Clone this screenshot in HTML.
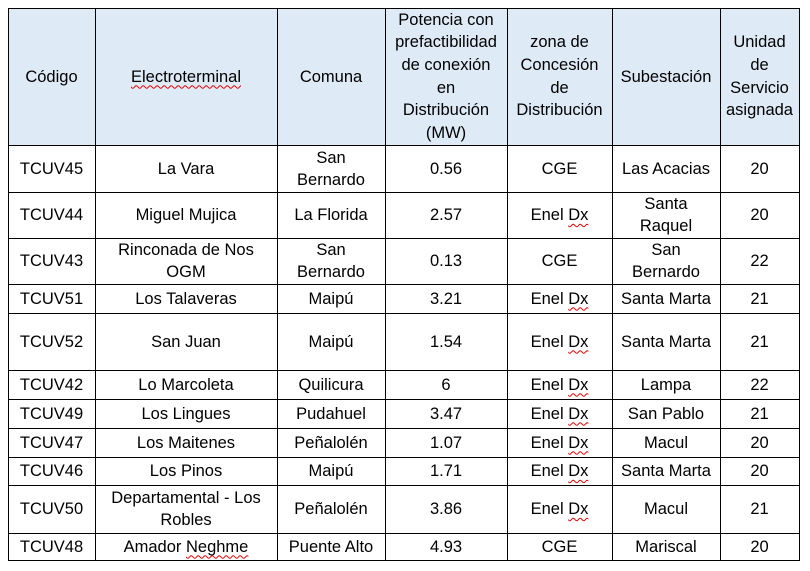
<!DOCTYPE html>
<html><head><meta charset="utf-8">
<style>
html,body{margin:0;padding:0;background:#fff;}
body{width:810px;height:571px;position:relative;overflow:hidden;font-family:"Liberation Sans",sans-serif;font-size:16.5px;color:#000;}
.c{position:absolute;display:flex;align-items:center;justify-content:center;text-align:center;line-height:22px;white-space:nowrap;}
.h{background:#DEEBF7;}
.v{position:absolute;width:1px;background:#000;top:8px;height:553px;}
.hl{position:absolute;height:1px;background:#000;left:8px;width:792px;}
.w{text-decoration:underline wavy #e00000;text-decoration-thickness:1px;text-underline-offset:3px;text-decoration-skip-ink:none;}
</style></head><body>
<div class="c h" style="left:8px;top:8px;width:87px;height:137px;">Código</div>
<div class="c h" style="left:95px;top:8px;width:182px;height:137px;"><span class="w">Electroterminal</span></div>
<div class="c h" style="left:277px;top:8px;width:108px;height:137px;">Comuna</div>
<div class="c h" style="left:385px;top:8px;width:122px;height:137px;line-height:22.6px;">Potencia con<br>prefactibilidad<br>de conexión<br>en<br>Distribución<br>(MW)</div>
<div class="c h" style="left:507px;top:8px;width:105px;height:137px;line-height:22.6px;">zona de<br>Concesión<br>de<br>Distribución</div>
<div class="c h" style="left:612px;top:8px;width:108px;height:137px;">Subestación</div>
<div class="c h" style="left:720px;top:8px;width:79px;height:137px;line-height:22.6px;">Unidad<br>de<br>Servicio<br>asignada</div>

<!-- row 1 -->
<div class="c" style="left:8px;top:145px;width:87px;height:47px;">TCUV45</div>
<div class="c" style="left:95px;top:145px;width:182px;height:47px;">La Vara</div>
<div class="c" style="left:277px;top:145px;width:108px;height:47px;">San<br>Bernardo</div>
<div class="c" style="left:385px;top:145px;width:122px;height:47px;">0.56</div>
<div class="c" style="left:507px;top:145px;width:105px;height:47px;">CGE</div>
<div class="c" style="left:612px;top:145px;width:108px;height:47px;">Las Acacias</div>
<div class="c" style="left:720px;top:145px;width:79px;height:47px;">20</div>
<!-- row 2 -->
<div class="c" style="left:8px;top:192px;width:87px;height:46px;">TCUV44</div>
<div class="c" style="left:95px;top:192px;width:182px;height:46px;">Miguel Mujica</div>
<div class="c" style="left:277px;top:192px;width:108px;height:46px;">La Florida</div>
<div class="c" style="left:385px;top:192px;width:122px;height:46px;">2.57</div>
<div class="c" style="left:507px;top:192px;width:105px;height:46px;"><span>Enel <span class="w">Dx</span></span></div>
<div class="c" style="left:612px;top:192px;width:108px;height:46px;">Santa<br>Raquel</div>
<div class="c" style="left:720px;top:192px;width:79px;height:46px;">20</div>
<!-- row 3 -->
<div class="c" style="left:8px;top:238px;width:87px;height:46px;">TCUV43</div>
<div class="c" style="left:95px;top:238px;width:182px;height:46px;">Rinconada de Nos<br>OGM</div>
<div class="c" style="left:277px;top:238px;width:108px;height:46px;">San<br>Bernardo</div>
<div class="c" style="left:385px;top:238px;width:122px;height:46px;">0.13</div>
<div class="c" style="left:507px;top:238px;width:105px;height:46px;">CGE</div>
<div class="c" style="left:612px;top:238px;width:108px;height:46px;">San<br>Bernardo</div>
<div class="c" style="left:720px;top:238px;width:79px;height:46px;">22</div>
<!-- row 4 -->
<div class="c" style="left:8px;top:284px;width:87px;height:29px;">TCUV51</div>
<div class="c" style="left:95px;top:284px;width:182px;height:29px;">Los Talaveras</div>
<div class="c" style="left:277px;top:284px;width:108px;height:29px;">Maipú</div>
<div class="c" style="left:385px;top:284px;width:122px;height:29px;">3.21</div>
<div class="c" style="left:507px;top:284px;width:105px;height:29px;"><span>Enel <span class="w">Dx</span></span></div>
<div class="c" style="left:612px;top:284px;width:108px;height:29px;">Santa Marta</div>
<div class="c" style="left:720px;top:284px;width:79px;height:29px;">21</div>
<!-- row 5 -->
<div class="c" style="left:8px;top:313px;width:87px;height:57px;">TCUV52</div>
<div class="c" style="left:95px;top:313px;width:182px;height:57px;">San Juan</div>
<div class="c" style="left:277px;top:313px;width:108px;height:57px;">Maipú</div>
<div class="c" style="left:385px;top:313px;width:122px;height:57px;">1.54</div>
<div class="c" style="left:507px;top:313px;width:105px;height:57px;"><span>Enel <span class="w">Dx</span></span></div>
<div class="c" style="left:612px;top:313px;width:108px;height:57px;">Santa Marta</div>
<div class="c" style="left:720px;top:313px;width:79px;height:57px;">21</div>
<!-- row 6 -->
<div class="c" style="left:8px;top:370px;width:87px;height:29px;">TCUV42</div>
<div class="c" style="left:95px;top:370px;width:182px;height:29px;">Lo Marcoleta</div>
<div class="c" style="left:277px;top:370px;width:108px;height:29px;">Quilicura</div>
<div class="c" style="left:385px;top:370px;width:122px;height:29px;">6</div>
<div class="c" style="left:507px;top:370px;width:105px;height:29px;"><span>Enel <span class="w">Dx</span></span></div>
<div class="c" style="left:612px;top:370px;width:108px;height:29px;">Lampa</div>
<div class="c" style="left:720px;top:370px;width:79px;height:29px;">22</div>
<!-- row 7 -->
<div class="c" style="left:8px;top:399px;width:87px;height:29px;">TCUV49</div>
<div class="c" style="left:95px;top:399px;width:182px;height:29px;">Los Lingues</div>
<div class="c" style="left:277px;top:399px;width:108px;height:29px;">Pudahuel</div>
<div class="c" style="left:385px;top:399px;width:122px;height:29px;">3.47</div>
<div class="c" style="left:507px;top:399px;width:105px;height:29px;"><span>Enel <span class="w">Dx</span></span></div>
<div class="c" style="left:612px;top:399px;width:108px;height:29px;">San Pablo</div>
<div class="c" style="left:720px;top:399px;width:79px;height:29px;">21</div>
<!-- row 8 -->
<div class="c" style="left:8px;top:428px;width:87px;height:29px;">TCUV47</div>
<div class="c" style="left:95px;top:428px;width:182px;height:29px;">Los Maitenes</div>
<div class="c" style="left:277px;top:428px;width:108px;height:29px;">Peñalolén</div>
<div class="c" style="left:385px;top:428px;width:122px;height:29px;">1.07</div>
<div class="c" style="left:507px;top:428px;width:105px;height:29px;"><span>Enel <span class="w">Dx</span></span></div>
<div class="c" style="left:612px;top:428px;width:108px;height:29px;">Macul</div>
<div class="c" style="left:720px;top:428px;width:79px;height:29px;">20</div>
<!-- row 9 -->
<div class="c" style="left:8px;top:457px;width:87px;height:28px;">TCUV46</div>
<div class="c" style="left:95px;top:457px;width:182px;height:28px;">Los Pinos</div>
<div class="c" style="left:277px;top:457px;width:108px;height:28px;">Maipú</div>
<div class="c" style="left:385px;top:457px;width:122px;height:28px;">1.71</div>
<div class="c" style="left:507px;top:457px;width:105px;height:28px;"><span>Enel <span class="w">Dx</span></span></div>
<div class="c" style="left:612px;top:457px;width:108px;height:28px;">Santa Marta</div>
<div class="c" style="left:720px;top:457px;width:79px;height:28px;">20</div>
<!-- row 10 -->
<div class="c" style="left:8px;top:485px;width:87px;height:48px;">TCUV50</div>
<div class="c" style="left:95px;top:485px;width:182px;height:48px;">Departamental - Los<br>Robles</div>
<div class="c" style="left:277px;top:485px;width:108px;height:48px;">Peñalolén</div>
<div class="c" style="left:385px;top:485px;width:122px;height:48px;">3.86</div>
<div class="c" style="left:507px;top:485px;width:105px;height:48px;"><span>Enel <span class="w">Dx</span></span></div>
<div class="c" style="left:612px;top:485px;width:108px;height:48px;">Macul</div>
<div class="c" style="left:720px;top:485px;width:79px;height:48px;">21</div>
<!-- row 11 -->
<div class="c" style="left:8px;top:533px;width:87px;height:27px;">TCUV48</div>
<div class="c" style="left:95px;top:533px;width:182px;height:27px;"><span>Amador <span class="w">Neghme</span></span></div>
<div class="c" style="left:277px;top:533px;width:108px;height:27px;">Puente Alto</div>
<div class="c" style="left:385px;top:533px;width:122px;height:27px;">4.93</div>
<div class="c" style="left:507px;top:533px;width:105px;height:27px;">CGE</div>
<div class="c" style="left:612px;top:533px;width:108px;height:27px;">Mariscal</div>
<div class="c" style="left:720px;top:533px;width:79px;height:27px;">20</div>

<!-- vertical lines -->
<div class="v" style="left:8px"></div>
<div class="v" style="left:95px"></div>
<div class="v" style="left:277px"></div>
<div class="v" style="left:385px"></div>
<div class="v" style="left:507px"></div>
<div class="v" style="left:612px"></div>
<div class="v" style="left:720px"></div>
<div class="v" style="left:799px"></div>
<!-- horizontal lines -->
<div class="hl" style="top:8px"></div>
<div class="hl" style="top:145px"></div>
<div class="hl" style="top:192px"></div>
<div class="hl" style="top:238px"></div>
<div class="hl" style="top:284px"></div>
<div class="hl" style="top:313px"></div>
<div class="hl" style="top:370px"></div>
<div class="hl" style="top:399px"></div>
<div class="hl" style="top:428px"></div>
<div class="hl" style="top:457px"></div>
<div class="hl" style="top:485px"></div>
<div class="hl" style="top:533px"></div>
<div class="hl" style="top:560px"></div>
</body></html>
